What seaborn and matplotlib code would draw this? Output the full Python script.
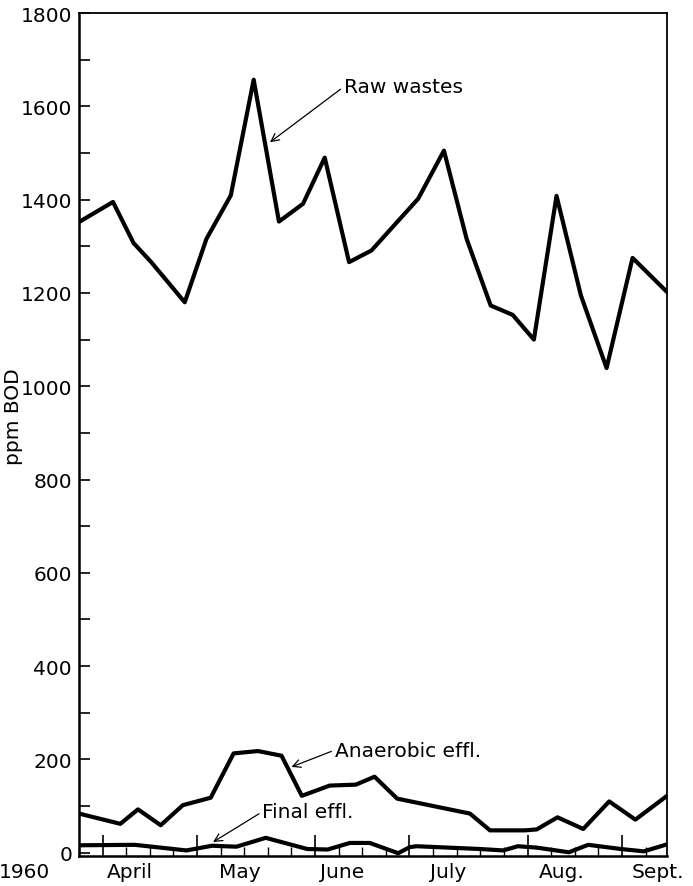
import numpy as np
import pandas as pd
import seaborn as sns
import matplotlib.pyplot as plt

# x = weeks from the left edge of the axis (start of April 1960)
raw_weeks = [0.0, 1.44, 2.31, 3.06, 4.48, 5.40, 6.43, 7.40, 8.47, 9.49, 10.41, 11.44,
             12.39, 14.37, 15.46, 16.42, 17.44, 18.37, 19.27, 20.23, 21.26, 22.35, 23.45, 24.91]
raw_bod = [1352, 1395, 1307, 1266, 1180, 1316, 1409, 1657, 1353, 1391, 1490, 1266,
           1291, 1402, 1505, 1316, 1173, 1153, 1100, 1408, 1195, 1039, 1275, 1202]

anaer_weeks = [0.0, 1.75, 2.50, 3.46, 4.40, 5.58, 6.55, 7.58, 8.58, 9.44, 10.62, 11.73,
               12.52, 13.48, 16.56, 17.41, 18.89, 19.39, 20.27, 21.36, 22.46, 23.57, 24.91]
anaer_bod = [84, 62, 93, 59, 102, 118, 213, 218, 208, 122, 144, 146,
             163, 116, 84, 48, 48, 50, 76, 51, 110, 71, 122]

final_weeks = [0.0, 2.36, 4.55, 5.64, 6.67, 7.91, 9.67, 10.54, 11.47, 12.32, 13.52,
               14.01, 14.30, 17.00, 17.97, 18.59, 19.39, 20.75, 21.57, 22.96, 23.93, 24.91]
final_bod = [16, 17, 5, 15, 13, 32, 8, 7, 21, 21, -1,
             12, 14, 8, 5, 14, 11, 1, 17, 8, 3, 18]

months = ['April', 'May', 'June', 'July', 'Aug.', 'Sept.']
month_label_pos = [2.15, 6.81, 11.13, 15.63, 20.46, 24.53]
month_ticks = [1, 5, 10, 14, 19, 23]

df = pd.concat([
    pd.DataFrame({'week': raw_weeks, 'bod': raw_bod, 'series': 'Raw wastes'}),
    pd.DataFrame({'week': anaer_weeks, 'bod': anaer_bod, 'series': 'Anaerobic effl.'}),
    pd.DataFrame({'week': final_weeks, 'bod': final_bod, 'series': 'Final effl.'}),
])

sns.set_style('ticks')
plt.rcParams['font.family'] = ['DejaVu Sans']
plt.rcParams['font.size'] = 14.5
plt.rcParams['text.color'] = 'black'
plt.rcParams['axes.labelcolor'] = 'black'
plt.rcParams['xtick.color'] = 'black'
plt.rcParams['ytick.color'] = 'black'
plt.rcParams['axes.edgecolor'] = 'black'

fig = plt.figure(figsize=(6.93, 8.87), dpi=100)
ax = fig.add_axes([0.114, 0.0338, 0.8485, 0.9504])

for name in ['Raw wastes', 'Anaerobic effl.', 'Final effl.']:
    sns.lineplot(data=df[df['series'] == name], x='week', y='bod', color='black',
                 lw=3, ax=ax, sort=False, estimator=None)

ax.set_xlim(0, 24.91)
ax.set_ylim(-7, 1800)
ax.set_yticks(np.arange(0, 1801, 200))
ax.set_yticks(np.arange(100, 1800, 200), minor=True)
ax.tick_params(axis='y', which='both', direction='in', length=8, width=1.2,
               labelsize=14.5, pad=5)

ax.set_xticks(month_ticks)
ax.set_xticklabels([])
ax.set_xticks(np.arange(0, 25, 1), minor=True)
ax.tick_params(axis='x', which='major', direction='in', length=15, width=1.2)
ax.tick_params(axis='x', which='minor', direction='in', length=6.5, width=1.0)

sec = ax.secondary_xaxis('bottom')
sec.set_xticks(month_label_pos, months)
sec.tick_params(length=0, pad=4, labelsize=14.5)
sec.spines['bottom'].set_visible(False)
ax.annotate('1960', xy=(-2.31, 0), xycoords=('data', 'axes fraction'),
            xytext=(0, -4), textcoords='offset points', ha='center', va='top',
            fontsize=14.5, annotation_clip=False)

ax.set_xlabel('')
ax.set_ylabel('ppm BOD', fontsize=14.5)
ax.yaxis.set_label_coords(-0.095, 0.523)

for side in ['left', 'bottom']:
    ax.spines[side].set_linewidth(1.8)
for side in ['top', 'right']:
    ax.spines[side].set_visible(True)
    ax.spines[side].set_linewidth(1.3)

arrow = dict(arrowstyle='->', lw=0.9, color='black', shrinkA=0, shrinkB=0,
             relpos=(0, 0.5), mutation_scale=14)
ax.annotate('Raw wastes', xy=(8.09, 1523), xytext=(11.22, 1642),
            ha='left', va='center', fontsize=14.5, arrowprops=arrow)
ax.annotate('Anaerobic effl.', xy=(9.0, 184), xytext=(10.83, 220),
            ha='left', va='center', fontsize=14.5, arrowprops=arrow)
ax.annotate('Final effl.', xy=(5.68, 23), xytext=(7.77, 88),
            ha='left', va='center', fontsize=14.5, arrowprops=arrow)

fig.savefig('out.png', dpi=100)
